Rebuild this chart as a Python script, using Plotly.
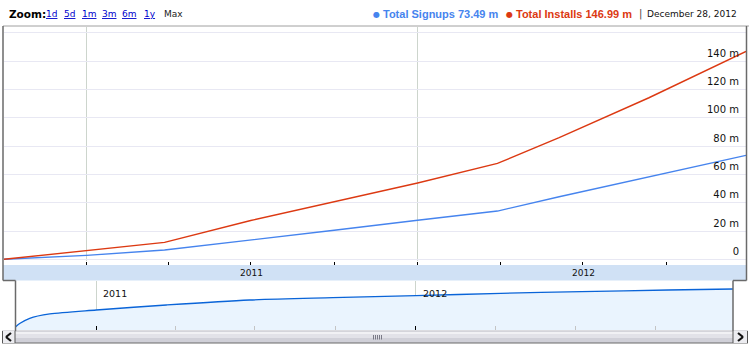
import plotly.graph_objects as go

W, H = 749, 345
def px(x): return x / W
def py(y): return 1 - y / H

# ---------------- data ----------------
dates = ["2010-10-02", "2011-01-01", "2011-03-28", "2011-07-01", "2011-10-01",
         "2012-01-01", "2012-03-29", "2012-06-05", "2012-09-12", "2012-12-28"]
signups = [0, 2.8, 6.6, 13.4, 20.5, 27.6, 34.1, 44.2, 58.4, 73.49]
installs = [0, 5.9, 12.0, 27.4, 40.5, 53.9, 67.8, 86.0, 114.2, 146.99]
series_names = ["Total Signups", "Total Installs"]
series_colors = ["#4684ee", "#dc3912"]

nav_dates = ["2010-10-01", "2010-10-06", "2010-10-17", "2010-11-09", "2011-01-01",
             "2011-03-22", "2011-06-25", "2011-09-28", "2012-01-01", "2012-04-07",
             "2012-07-08", "2012-10-15", "2012-12-28"]
nav_values = [6.7, 13.7, 23.9, 32.7, 40.8, 51.0, 61.2, 65.9, 70.0, 74.9, 78.2, 81.6, 83.7]

y_tickvals = [0, 20, 40, 60, 80, 100, 120, 140, 160]
y_ticktext = ["0", "20 m", "40 m", "60 m", "80 m", "100 m", "120 m", "140 m", "160 m"]
years = ["2011", "2012"]
zoom_links = ["1d", "5d", "1m", "3m", "6m", "1y", "Max"]
date_label = "December 28, 2012"

# ---------------- figure ----------------
fig = go.Figure()
for name, vals, col in zip(series_names, [signups, installs], series_colors):
    fig.add_trace(go.Scatter(x=dates, y=vals, mode="lines", name=name,
                             line=dict(color=col, width=1.4), xaxis="x", yaxis="y",
                             hoverinfo="skip"))

fig.add_trace(go.Scatter(x=nav_dates, y=nav_values, mode="lines", fill="tozeroy",
                         fillcolor="#eaf4fe",
                         line=dict(color="#0a64d8", width=1.3, shape="spline", smoothing=0.8),
                         xaxis="x2", yaxis="y2", hoverinfo="skip"))

year_starts = [f"{y}-01-01" for y in years]
mid_years = [f"{y}-07-02" for y in years]

fig.update_layout(
    width=W, height=H, margin=dict(l=0, r=0, t=0, b=0), autosize=False,
    paper_bgcolor="white", plot_bgcolor="white", showlegend=False,
    xaxis=dict(domain=[px(4), px(746)], range=["2010-10-02", "2012-12-28"],
               type="date", anchor="y",
               tickvals=year_starts, ticks="outside", ticklen=4, tickcolor="black",
               showticklabels=False, showgrid=True, gridcolor="#cdd5cd", gridwidth=1,
               zeroline=False, showline=False,
               minor=dict(dtick="M3", tick0="2011-01-01", ticks="outside", ticklen=4,
                          tickcolor="black", showgrid=False)),
    yaxis=dict(domain=[py(261), py(27)], range=[-1.2, 164.2], anchor="x",
               side="right", ticklabelposition="inside",
               tickvals=y_tickvals, ticktext=y_ticktext, ticks="",
               ticklabelshift=-8, ticklabelstandoff=4,
               tickfont=dict(family="DejaVu Sans", size=10, color="#111"),
               showgrid=True, gridcolor="#e8e8f3", gridwidth=1,
               zeroline=False, showline=False),
    xaxis2=dict(domain=[px(15.7), px(733)], range=["2010-10-01", "2012-12-28"],
                type="date", anchor="y2",
                tickvals=year_starts, ticks="inside", ticklen=4, tickcolor="black",
                showticklabels=False, showgrid=True, gridcolor="#cdd5cd",
                zeroline=False, showline=False,
                minor=dict(dtick="M3", tick0="2011-01-01", ticks="inside", ticklen=4,
                           tickcolor="#c4c4c4", showgrid=False)),
    yaxis2=dict(domain=[py(330), py(281)], range=[0, 100], anchor="x2",
                showticklabels=False, showgrid=False, zeroline=False, ticks=""),
)

shapes = []
def rect(x0, y0, x1, y1, fill, layer="above"):
    shapes.append(dict(type="rect", xref="paper", yref="paper",
                       x0=px(x0), x1=px(x1), y0=py(y1), y1=py(y0),
                       fillcolor=fill, line=dict(width=0), layer=layer))
def line(x0, y0, x1, y1, color, width=1):
    shapes.append(dict(type="line", xref="paper", yref="paper",
                       x0=px(x0), x1=px(x1), y0=py(y0), y1=py(y1),
                       line=dict(color=color, width=width), layer="above"))

# toolbar cover (clips the top tick label)
rect(0, 0, W, 26, "white")
# year band
rect(3, 265, 746.5, 280.5, "#d0e1f5")
# navigator top strip (grid starts lower)
rect(16, 281.2, 732.5, 286.5, "white", layer="below")
# scrollbar
rect(2, 331, 748, 334, "#f1f1f4")
rect(2, 334, 748, 338, "#e2e2e8")
rect(2, 338, 748, 343, "#d0d0d8")
line(2, 343, 748, 343, "#6a6a6a")
line(2, 331, 748, 331, "#b8b8c0")
# scroll buttons
rect(2.5, 331, 15, 343, "#ececf0")
rect(733, 331, 747.5, 343, "#ececf0")
line(2.5, 331, 2.5, 343, "#555")
line(15, 331, 15, 343, "#555")
line(733, 331, 733, 343, "#555")
line(747.5, 331, 747.5, 343, "#555")
# arrow chevrons (two strokes each)
line(11, 333, 6, 337, "#111", 2.2)
line(6, 337, 11, 341, "#111", 2.2)
line(738, 333, 743, 337, "#111", 2.2)
line(743, 337, 738, 341, "#111", 2.2)
# gripper
for gx in range(373, 383, 2):
    line(gx + 0.5, 335, gx + 0.5, 339.5, "#7a7a86")
# frame
line(3, 26, 749, 26, "#a0a0a0")
line(3, 26, 3, 280.5, "#6a6a6a", 1.5)
line(3, 280.5, 15.5, 280.5, "#6a6a6a", 1.5)
line(15.5, 280.5, 15.5, 331, "#6a6a6a", 1.5)
line(746.5, 26, 746.5, 280.5, "#6a6a6a", 1.5)
line(733, 280.5, 746.5, 280.5, "#6a6a6a", 1.5)
line(733, 280.5, 733, 331, "#6a6a6a", 1.5)
fig.update_layout(shapes=shapes)

ann = []
def text(x, y, t, size=9, color="#000", family="DejaVu Sans", xanchor="left"):
    ann.append(dict(x=px(x), y=py(y), xref="paper", yref="paper",
                    text=t, showarrow=False, xanchor=xanchor, yanchor="middle",
                    font=dict(family=family, size=size, color=color)))

# toolbar
text(7, 14, "<b>Zoom:</b>", size=10.5, family="DejaVu Sans")
link_x = [45, 63, 81, 101, 121, 143, 163]
for lx, lk in zip(link_x, zoom_links):
    if lk == "Max":
        text(lx - 1, 14, lk, size=9, color="#222")
    else:
        text(lx - 1, 14, f"<u>{lk}</u>", size=9, color="#0000cc")

# legend
leg_x = [(371, 381), (504, 514)]
for (bx, tx), name, col, vals in zip(leg_x, series_names, series_colors, [signups, installs]):
    text(bx, 14.5, "●", size=8, color=col, family="DejaVu Sans")
    text(tx, 14, f"<b>{name} {vals[-1]:.2f} m</b>", size=11, color=col,
         family="Liberation Sans")
text(637, 14, "|", size=10, color="#444")
text(645, 14, date_label, size=9, color="#111")

# year labels in band
for my, yr in zip(mid_years, years):
    ann.append(dict(x=my, xref="x", y=py(272.5), yref="paper", text=yr,
                    showarrow=False, xanchor="center", yanchor="middle",
                    font=dict(family="DejaVu Sans", size=9, color="#111")))
# navigator year labels
for ys, yr in zip(year_starts, years):
    ann.append(dict(x=ys, xref="x2", y=py(293.5), yref="paper", text=yr,
                    showarrow=False, xanchor="left", yanchor="middle", xshift=5,
                    font=dict(family="DejaVu Sans", size=9.5, color="#111")))

fig.update_layout(annotations=ann)
fig.write_html("out.html")
